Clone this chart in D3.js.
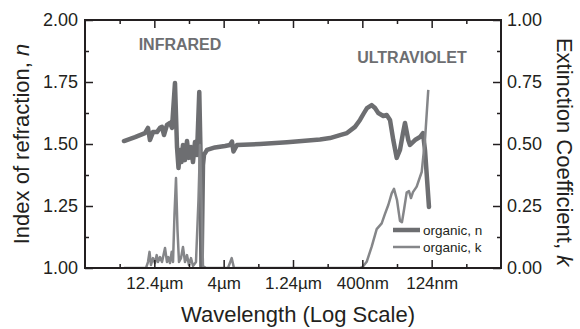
<!DOCTYPE html>
<html>
<head>
<meta charset="utf-8">
<script src="https://cdn.jsdelivr.net/npm/d3@7"></script>
<style>
  body { margin: 0; background: #fff; }
  svg { font-family: "Liberation Sans", Arial, sans-serif; }
</style>
</head>
<body>
<div id="chart"></div>
<script>
// photon energy (eV) on a log axis, labelled as wavelength
const nEnergy = [0.0604, 0.0726, 0.0856, 0.0900, 0.0930, 0.0978, 0.1045, 0.1099, 0.1136, 0.1174,
  0.1234, 0.1297, 0.1341, 0.1409, 0.1457, 0.1494, 0.1531, 0.1570, 0.1609, 0.1664,
  0.1720, 0.1778, 0.1838, 0.1900, 0.1964, 0.2030, 0.2109, 0.2152, 0.2188, 0.2243,
  0.2281, 0.2398, 0.2738, 0.3232, 0.3512, 0.3631, 0.3722, 0.3946, 0.5779, 0.9049,
  1.565, 1.848, 2.182, 2.451, 2.799, 3.041, 3.250, 3.416, 3.694, 3.902,
  4.121, 4.477, 4.740, 5.006, 5.288, 5.594, 5.910, 6.211, 6.421, 6.782,
  6.975, 7.580, 8.235, 8.656, 8.950, 9.563];
const nValues = [1.512, 1.528, 1.544, 1.565, 1.516, 1.548, 1.548, 1.565, 1.569, 1.536,
  1.577, 1.585, 1.565, 1.746, 1.488, 1.403, 1.476, 1.427, 1.496, 1.435,
  1.512, 1.444, 1.488, 1.427, 1.508, 1.456, 1.710, 1.476, 0.972, 1.415,
  1.456, 1.476, 1.486, 1.492, 1.496, 1.510, 1.470, 1.496, 1.500, 1.507,
  1.518, 1.524, 1.536, 1.544, 1.569, 1.597, 1.625, 1.645, 1.657, 1.645,
  1.625, 1.613, 1.617, 1.597, 1.516, 1.444, 1.476, 1.544, 1.585, 1.516,
  1.496, 1.516, 1.528, 1.544, 1.476, 1.246];

const kEnergy = [0.0604, 0.0871, 0.0900, 0.0923, 0.0946, 0.0978, 0.1011, 0.1040, 0.1063, 0.1099,
  0.1136, 0.1194, 0.1234, 0.1261, 0.1297, 0.1334, 0.1364, 0.1397, 0.1433, 0.1469,
  0.1506, 0.1557, 0.1609, 0.1664, 0.1720, 0.1778, 0.1838, 0.1900, 0.1997, 0.2081,
  0.2135, 0.2188, 0.2243, 0.2359, 0.3397, 0.3612, 0.3753, 3.041, 3.196, 3.399,
  3.694, 4.014, 4.361, 4.606, 4.867, 5.149, 5.350, 5.623, 5.910, 6.107,
  6.313, 6.603, 6.860, 7.092, 7.331, 7.798, 8.472, 8.950, 9.452];
const kValues = [0.000, 0.000, 0.024, 0.065, 0.012, 0.040, 0.020, 0.052, 0.024, 0.044,
  0.024, 0.081, 0.024, 0.044, 0.020, 0.065, 0.024, 0.214, 0.363, 0.153,
  0.024, 0.040, 0.085, 0.024, 0.052, 0.012, 0.040, 0.008, 0.024, 0.274,
  0.496, 0.274, 0.008, 0.000, 0.000, 0.040, 0.000, 0.000, 0.006, 0.025,
  0.086, 0.157, 0.180, 0.218, 0.254, 0.301, 0.319, 0.274, 0.190, 0.185,
  0.234, 0.304, 0.310, 0.282, 0.306, 0.328, 0.387, 0.516, 0.718];

const majorTicks = [0.1, 0.3162, 1, 3.162, 10];
const majorLabels = ["12.4\u00b5m", "4\u00b5m", "1.24\u00b5m", "400nm", "124nm"];
const minorTicks = [0.05623, 0.1778, 0.5623, 1.778, 5.623, 17.78];
const nTicks = [1.00, 1.25, 1.50, 1.75, 2.00];
const nMinor = [1.125, 1.375, 1.625, 1.875];
const kTicks = [0.00, 0.25, 0.50, 0.75, 1.00];
const kMinor = [0.125, 0.375, 0.625, 0.875];

const W = 580, H = 329;
const mLeft = 85, mRight = 501, mTop = 20, mBottom = 268;
const ink = "#231f20";

const svg = d3.select("#chart").append("svg").attr("width", W).attr("height", H);

const x = d3.scaleLog().domain([Math.pow(10, -1.5), Math.pow(10, 1.5)]).range([mLeft, mRight]);
const yN = d3.scaleLinear().domain([1, 2]).range([mBottom, mTop]);
const yK = d3.scaleLinear().domain([0, 1]).range([mBottom, mTop]);

svg.append("clipPath").attr("id", "plot")
  .append("rect").attr("x", mLeft).attr("y", mTop).attr("width", mRight - mLeft).attr("height", mBottom - mTop);

const nLine = d3.line().x((d, i) => x(nEnergy[i])).y(d => yN(d));
const kLine = d3.line().x((d, i) => x(kEnergy[i])).y(d => yK(d));

const g = svg.append("g").attr("clip-path", "url(#plot)");
g.append("path").attr("d", nLine(nValues))
  .attr("fill", "none").attr("stroke", "#6d6e71").attr("stroke-width", 4.5)
  .attr("stroke-linejoin", "round").attr("stroke-linecap", "round");
g.append("path").attr("d", kLine(kValues))
  .attr("fill", "none").attr("stroke", "#858689").attr("stroke-width", 2.5)
  .attr("stroke-linejoin", "round");

// axes, ticks point inward
function styleAxis(sel) {
  sel.select(".domain").remove();
  sel.selectAll("line").attr("stroke", ink).attr("stroke-width", 1.5);
  sel.selectAll("text").attr("fill", ink);
}

svg.append("g").attr("transform", `translate(0,${mBottom})`)
  .call(d3.axisBottom(x).tickValues(majorTicks).tickSize(-8).tickPadding(6)
    .tickFormat((d, i) => majorLabels[i]))
  .call(styleAxis)
  .selectAll("text").attr("font-size", 17).attr("dy", "0.9em");
svg.append("g").attr("transform", `translate(0,${mBottom})`)
  .call(d3.axisBottom(x).tickValues(minorTicks).tickSize(-4).tickFormat(""))
  .call(styleAxis);
svg.append("g").attr("transform", `translate(0,${mTop})`)
  .call(d3.axisTop(x).tickValues(majorTicks).tickSize(-8).tickFormat(""))
  .call(styleAxis);
svg.append("g").attr("transform", `translate(0,${mTop})`)
  .call(d3.axisTop(x).tickValues(minorTicks).tickSize(-4).tickFormat(""))
  .call(styleAxis);

svg.append("g").attr("transform", `translate(${mLeft},0)`)
  .call(d3.axisLeft(yN).tickValues(nTicks).tickSize(-8).tickPadding(7).tickFormat(d3.format(".2f")))
  .call(styleAxis)
  .selectAll("text").attr("font-size", 18);
svg.append("g").attr("transform", `translate(${mLeft},0)`)
  .call(d3.axisLeft(yN).tickValues(nMinor).tickSize(-4).tickFormat(""))
  .call(styleAxis);
svg.append("g").attr("transform", `translate(${mRight},0)`)
  .call(d3.axisRight(yK).tickValues(kTicks).tickSize(-8).tickPadding(6).tickFormat(d3.format(".2f")))
  .call(styleAxis)
  .selectAll("text").attr("font-size", 18);
svg.append("g").attr("transform", `translate(${mRight},0)`)
  .call(d3.axisRight(yK).tickValues(kMinor).tickSize(-4).tickFormat(""))
  .call(styleAxis);

// frame
svg.append("rect").attr("x", mLeft).attr("y", mTop).attr("width", mRight - mLeft).attr("height", mBottom - mTop)
  .attr("fill", "none").attr("stroke", ink).attr("stroke-width", 2);

// titles
svg.append("text").attr("x", (mLeft + mRight) / 2 + 5).attr("y", 322)
  .attr("text-anchor", "middle").attr("font-size", 22).attr("fill", ink)
  .text("Wavelength (Log Scale)");

const yt = svg.append("text").attr("transform", `translate(29,${(mTop + mBottom) / 2}) rotate(-90)`)
  .attr("text-anchor", "middle").attr("font-size", 22).attr("fill", ink);
yt.append("tspan").text("Index of refraction, ");
yt.append("tspan").attr("font-style", "italic").text("n");

const kt = svg.append("text").attr("transform", `translate(557,${(mTop + mBottom) / 2 + 8}) rotate(90)`)
  .attr("text-anchor", "middle").attr("font-size", 22).attr("fill", ink);
kt.append("tspan").text("Extinction Coefficient, ");
kt.append("tspan").attr("font-style", "italic").text("k");

// region labels
svg.append("text").attr("x", 180).attr("y", 50).attr("text-anchor", "middle")
  .attr("font-size", 16).attr("font-weight", "bold").attr("fill", "#6d6e71").text("INFRARED");
svg.append("text").attr("x", 412).attr("y", 63).attr("text-anchor", "middle")
  .attr("font-size", 16).attr("font-weight", "bold").attr("fill", "#6d6e71").text("ULTRAVIOLET");

// legend
const legend = [
  { label: "organic, n", color: "#6d6e71", width: 4.5, y: 230 },
  { label: "organic, k", color: "#858689", width: 2.5, y: 247 }
];
const lg = svg.append("g").selectAll("g").data(legend).join("g")
  .attr("transform", d => `translate(393,${d.y})`);
lg.append("line").attr("x1", 0).attr("x2", 27)
  .attr("stroke", d => d.color).attr("stroke-width", d => d.width);
lg.append("text").attr("x", 30).attr("dy", "0.35em").attr("font-size", 13.5)
  .attr("fill", ink).text(d => d.label);
</script>
</body>
</html>
